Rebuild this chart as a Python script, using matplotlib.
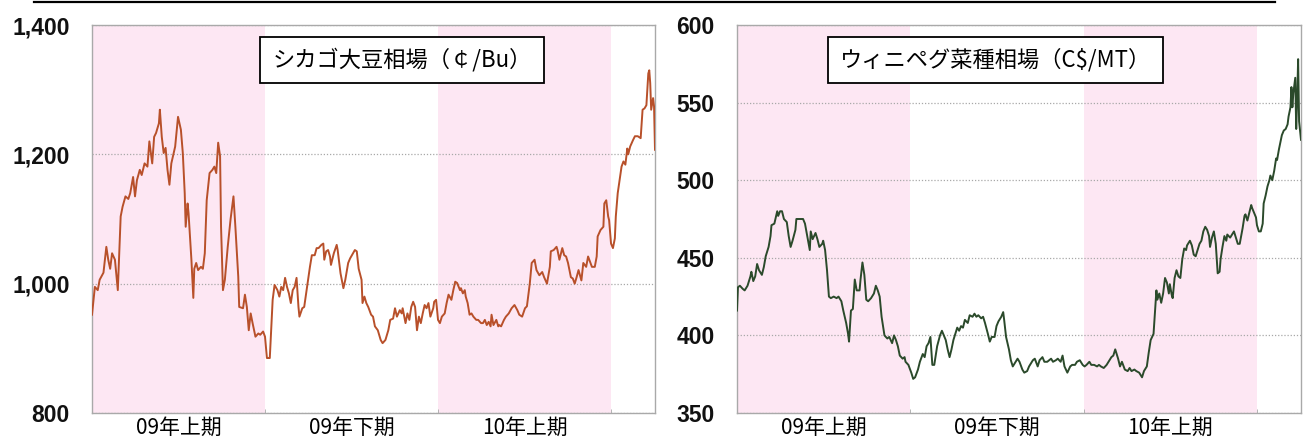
import matplotlib
matplotlib.use("Agg")
import matplotlib.pyplot as plt
from matplotlib.lines import Line2D
from matplotlib.patches import Rectangle
from matplotlib.ticker import FuncFormatter

plt.rcParams['font.family'] = ['Noto Sans CJK JP', 'DejaVu Sans']

# -------------------------
# Periods (days from start of 09年上期)
# -------------------------
period_labels = ["09年上期", "09年下期", "10年上期"]
period_starts = [0, 181, 362]
period_ends = [181, 362, 543]
period_shaded = [True, False, True]
day_end = 589

# -------------------------
# Chicago soybeans (cents / bushel)
# -------------------------
soy_days = [
    0, 3, 6, 8, 12, 15, 17, 19, 21, 24,
    27, 30, 32, 35, 38, 40, 43, 45, 47, 50,
    52, 55, 58, 60, 63, 65, 67, 70, 71, 73,
    75, 77, 79, 81, 83, 87, 90, 93, 95, 97,
    98, 100, 101, 104, 106, 107, 109, 111, 114, 116,
    118, 120, 123, 126, 128, 130, 132, 134, 135, 137,
    139, 142, 145, 148, 150, 153, 154, 158, 160, 162,
    164, 166, 168, 171, 174, 176, 179, 181, 183, 186,
    189, 191, 194, 196, 198, 200, 202, 204, 206, 208,
    210, 212, 214, 216, 217, 220, 222, 225, 228, 230,
    233, 235, 237, 240, 242, 243, 245, 247, 249, 250,
    253, 256, 257, 260, 263, 265, 268, 270, 273, 275,
    277, 279, 282, 283, 285, 287, 289, 292, 294, 296,
    299, 302, 304, 307, 310, 312, 315, 317, 319, 322,
    324, 325, 328, 330, 332, 334, 336, 338, 340, 342,
    344, 346, 348, 350, 352, 354, 357, 358, 360, 362,
    364, 366, 369, 371, 373, 376, 378, 380, 382, 385,
    386, 388, 390, 391, 393, 395, 397, 399, 402, 404,
    407, 409, 411, 413, 415, 417, 418, 420, 423, 425,
    426, 428, 431, 433, 436, 439, 442, 445, 447, 450,
    453, 455, 458, 460, 463, 465, 468, 471, 473, 476,
    479, 480, 483, 486, 487, 489, 492, 494, 496, 498,
    501, 503, 505, 507, 509, 512, 514, 517, 519, 521,
    523, 526, 528, 529, 532, 535, 536, 538, 540, 541,
    543, 545, 547, 548, 550, 552, 554, 556, 558, 560,
    561, 563, 566, 568, 571, 574, 576, 578, 580, 582,
    583, 584, 585, 587, 588, 589,
]
soy_prices = [
    952, 995, 990, 1006, 1017, 1057, 1037, 1023, 1047, 1037,
    990, 1104, 1119, 1135, 1131, 1140, 1165, 1135, 1160, 1176,
    1168, 1186, 1181, 1220, 1186, 1227, 1233, 1248, 1269, 1227,
    1202, 1210, 1176, 1153, 1186, 1212, 1258, 1238, 1202, 1140,
    1088, 1124, 1109, 1037, 978, 1023, 1032, 1021, 1026, 1023,
    1047, 1129, 1171, 1176, 1181, 1171, 1218, 1197, 1088, 990,
    1006, 1057, 1100, 1135, 1088, 1011, 964, 962, 983, 964,
    928, 954, 939, 918, 923, 921, 926, 918, 885, 885,
    975, 998, 990, 980, 995, 990, 1009, 995, 985, 970,
    990, 995, 1009, 964, 949, 962, 964, 995, 1026, 1044,
    1044, 1055, 1055, 1060, 1062, 1037, 1050, 1052, 1042, 1029,
    1047, 1060, 1052, 1016, 993, 1006, 1032, 1039, 1047, 1052,
    1050, 1023, 1006, 970, 980, 970, 964, 952, 949, 934,
    928, 913, 908, 913, 928, 944, 946, 962, 949, 959,
    954, 962, 939, 954, 944, 964, 972, 964, 928, 949,
    939, 954, 967, 962, 970, 949, 962, 972, 975, 944,
    939, 949, 954, 970, 983, 975, 990, 1003, 1001, 990,
    993, 985, 990, 980, 970, 952, 954, 949, 944, 944,
    939, 939, 944, 936, 941, 934, 952, 936, 944, 934,
    936, 934, 944, 949, 954, 962, 967, 959, 952, 949,
    962, 965, 1000, 1032, 1037, 1021, 1013, 1018, 1010, 1000,
    1026, 1050, 1052, 1057, 1052, 1037, 1055, 1044, 1042, 1032,
    1010, 1008, 1000, 1010, 1021, 1005, 1032, 1026, 1042, 1034,
    1026, 1026, 1042, 1073, 1083, 1088, 1124, 1129, 1104, 1098,
    1062, 1055, 1070, 1104, 1140, 1160, 1181, 1189, 1184, 1209,
    1200, 1212, 1222, 1228, 1228, 1225, 1269, 1271, 1276, 1325,
    1330, 1310, 1269, 1287, 1274, 1207,
]

# -------------------------
# Winnipeg canola (C$ / tonne)
# -------------------------
canola_days = [
    0, 1, 3, 6, 8, 11, 14, 15, 17, 19,
    21, 23, 26, 28, 30, 33, 35, 36, 39, 42,
    43, 45, 47, 49, 52, 54, 56, 58, 61, 62,
    66, 69, 71, 74, 76, 77, 79, 82, 84, 86,
    89, 90, 92, 94, 96, 98, 101, 104, 106, 109,
    111, 114, 116, 117, 119, 121, 123, 125, 128, 129,
    131, 133, 135, 137, 140, 143, 145, 147, 149, 151,
    154, 157, 159, 162, 164, 166, 168, 170, 173, 175,
    176, 179, 182, 184, 186, 189, 191, 194, 196, 198,
    200, 202, 204, 206, 209, 212, 214, 216, 218, 220,
    222, 224, 226, 228, 230, 232, 234, 236, 238, 241,
    243, 246, 248, 250, 252, 255, 257, 259, 262, 264,
    266, 269, 271, 273, 276, 278, 279, 281, 284, 286,
    288, 291, 293, 295, 298, 300, 303, 305, 309, 311,
    314, 316, 319, 321, 324, 326, 328, 330, 333, 335,
    338, 340, 342, 345, 348, 350, 353, 355, 358, 361,
    363, 365, 368, 370, 373, 376, 378, 380, 383, 386,
    388, 391, 393, 395, 398, 400, 402, 405, 408, 410,
    412, 415, 417, 420, 423, 425, 428, 430, 432, 435,
    436, 438, 439, 441, 443, 445, 447, 449, 451, 452,
    454, 455, 457, 459, 461, 463, 465, 467, 469, 470,
    473, 475, 477, 479, 481, 483, 485, 487, 489, 491,
    493, 494, 496, 498, 500, 502, 504, 505, 507, 509,
    511, 512, 515, 517, 519, 521, 523, 525, 528, 530,
    531, 533, 535, 537, 538, 540, 542, 543, 545, 547,
    549, 550, 552, 554, 556, 557, 559, 561, 563, 564,
    566, 568, 569, 571, 573, 575, 576, 578, 579, 580,
    581, 583, 584, 585, 586, 587, 589,
]
canola_prices = [
    416, 431, 432, 430, 429, 432, 438, 441, 435, 438,
    446, 442, 439, 444, 451, 457, 464, 471, 472, 480,
    477, 480, 480, 475, 473, 464, 457, 461, 468, 475,
    475, 475, 472, 462, 455, 467, 462, 466, 462, 457,
    459, 461, 455, 442, 425, 424, 425, 424, 425, 422,
    416, 408, 401, 396, 416, 417, 436, 429, 429, 436,
    447, 439, 423, 422, 424, 427, 432, 429, 425, 412,
    400, 398, 399, 395, 400, 397, 393, 387, 385, 386,
    383, 381, 376, 372, 373, 378, 383, 388, 386, 393,
    395, 399, 381, 381, 393, 400, 403, 400, 397, 391,
    386, 391, 397, 401, 405, 403, 406, 405, 410, 408,
    413, 412, 414, 412, 413, 411, 412, 408, 401, 396,
    399, 399, 406, 409, 412, 415, 410, 399, 391, 384,
    380, 383, 385, 383, 378, 376, 377, 380, 384, 385,
    380, 384, 386, 383, 383, 384, 385, 383, 384, 385,
    383, 387, 380, 376, 380, 381, 381, 383, 384, 381,
    380, 381, 383, 381, 381, 380, 381, 380, 379, 381,
    383, 386, 387, 391, 385, 380, 383, 378, 377, 379,
    377, 378, 377, 376, 373, 377, 380, 389, 397, 401,
    410, 429, 423, 427, 421, 427, 437, 434, 427, 433,
    426, 424, 437, 442, 438, 437, 449, 456, 455, 458,
    461, 458, 452, 451, 455, 459, 461, 467, 470, 468,
    464, 457, 463, 467, 459, 440, 441, 449, 457, 464,
    461, 465, 463, 465, 467, 463, 459, 459, 469, 477,
    478, 474, 479, 484, 482, 479, 476, 471, 467, 467,
    472, 485, 490, 496, 500, 503, 500, 506, 514, 513,
    520, 526, 529, 532, 533, 536, 541, 547, 560, 547,
    556, 566, 533, 552, 578, 538, 526,
]

pink = "#fde7f3"
grid_color = "#a8a8a8"
frame_color = "#a9a9a9"


def draw_panel(ax, days, prices, color, ylim, yticks, fmt, title, box_x):
    for start, end, shaded in zip(period_starts, period_ends, period_shaded):
        if shaded:
            ax.axvspan(start, end, color=pink, lw=0, zorder=0)
    ax.plot(days, prices, color=color, lw=1.4, zorder=3)

    ax.set_xlim(0, day_end)
    ax.set_ylim(*ylim)
    ax.set_yticks(yticks)
    ax.yaxis.set_major_formatter(FuncFormatter(fmt))
    ax.grid(axis="y", ls=(0, (1, 1.5)), color=grid_color, lw=0.9, zorder=1)
    ax.set_axisbelow(True)

    centers = [(s + e) / 2 for s, e in zip(period_starts, period_ends)]
    ax.set_xticks(centers)
    ax.set_xticklabels(period_labels)
    ax.set_xticks(period_ends, minor=True)
    ax.tick_params(axis="x", which="major", length=0, pad=3, labelsize=15,
                   labelcolor="black")
    ax.tick_params(axis="x", which="minor", length=3, direction="in",
                   color=frame_color)
    ax.tick_params(axis="y", length=0, pad=16, labelsize=16.5,
                   labelcolor="#111111")
    for lbl in ax.get_yticklabels():
        lbl.set_fontfamily("Liberation Sans")
        lbl.set_fontweight("bold")

    for sp in ax.spines.values():
        sp.set_color(frame_color)
        sp.set_linewidth(1.0)

    # title box
    ax.add_patch(Rectangle((box_x[0], 0.8505), box_x[1] - box_x[0], 0.1185,
                           transform=ax.transAxes, fc="white", ec="black",
                           lw=1.3, zorder=5))
    ax.text((box_x[0] + box_x[1]) / 2, 0.9098, title, transform=ax.transAxes,
            ha="center", va="center", fontsize=16, zorder=6)


fig = plt.figure(figsize=(13.04, 4.41), dpi=100)
ax_l = fig.add_axes([92 / 1304, 28 / 441, 563 / 1304, 388 / 441])
ax_r = fig.add_axes([737 / 1304, 28 / 441, 564 / 1304, 388 / 441])

draw_panel(ax_l, soy_days, soy_prices, "#b8502a", (800, 1400),
           [800, 1000, 1200, 1400], lambda v, p: f"{v:,.0f}",
           "シカゴ大豆相場（￠/Bu）", (0.2984, 0.8028))
draw_panel(ax_r, canola_days, canola_prices, "#2b4a2b", (350, 600),
           [350, 400, 450, 500, 550, 600], lambda v, p: f"{v:.0f}",
           "ウィニペグ菜種相場（C$/MT）", (0.1616, 0.7549))

# rule across the top
fig.add_artist(Line2D([34 / 1304, 1275 / 1304], [1 - 2 / 441, 1 - 2 / 441],
                      color="black", lw=1.6))

fig.savefig("out.png", dpi=100)
